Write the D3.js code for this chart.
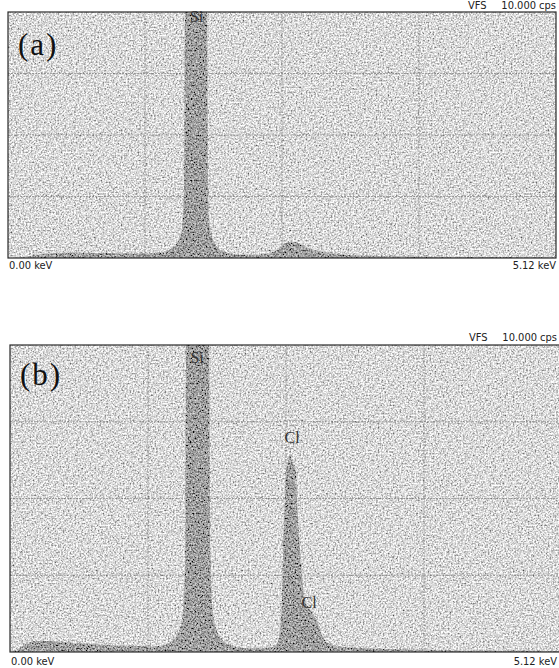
<!DOCTYPE html>
<html>
<head>
<meta charset="utf-8">
<script src="https://cdn.jsdelivr.net/npm/d3@7"></script>
<style>
  body { margin: 0; background: #fff; }
  svg { display: block; }
</style>
</head>
<body>
<div id="chart"></div>
<script>
// spectrum (a): energy in keV, intensity in cps (full scale 10 cps; Si goes off scale)
const energyA = [0.00, 0.15, 0.30, 0.45, 0.70, 1.00, 1.20, 1.30, 1.42, 1.50, 1.56, 1.60, 1.626, 1.645, 1.654, 1.66, 1.757,
                 1.853, 1.859, 1.87, 1.887, 1.92, 1.96, 2.02, 2.10, 2.20, 2.35, 2.45, 2.52, 2.58, 2.64, 2.70, 2.76,
                 2.82, 2.90, 3.00, 3.15, 3.40, 3.70, 4.20, 5.12];
const countsA = [0.00, 0.04, 0.14, 0.20, 0.21, 0.19, 0.18, 0.18, 0.22, 0.32, 0.50, 0.80, 1.2, 3.0, 10, 14, 25,
                 14, 10, 3.0, 1.2, 0.70, 0.40, 0.25, 0.16, 0.13, 0.14, 0.20, 0.35, 0.58, 0.66, 0.62, 0.50,
                 0.38, 0.28, 0.20, 0.13, 0.09, 0.06, 0.04, 0.02];

// spectrum (b)
const energyB = [0.00, 0.08, 0.15, 0.22, 0.35, 0.50, 0.70, 0.90, 1.10, 1.30, 1.42, 1.50, 1.56, 1.60, 1.625, 1.635, 1.64, 1.74,
                 1.84, 1.845, 1.86, 1.885, 1.93, 1.98, 2.05, 2.15, 2.30, 2.42, 2.47, 2.50, 2.515, 2.525, 2.535, 2.55, 2.56,
                 2.58, 2.597, 2.62, 2.653, 2.662, 2.69, 2.737, 2.78, 2.82, 2.86, 2.90, 2.95, 3.05, 3.30, 3.70, 4.20, 5.12];
const countsB = [0.00, 0.10, 0.28, 0.35, 0.36, 0.32, 0.27, 0.23, 0.20, 0.18, 0.22, 0.35, 0.60, 1.2, 3.0, 10, 14, 25,
                 14, 10, 3.0, 1.2, 0.60, 0.35, 0.22, 0.14, 0.12, 0.14, 0.25, 0.60, 1.2, 2.0, 3.5, 5.0, 5.9,
                 6.2, 6.45, 6.2, 5.9, 5.0, 3.3, 1.7, 1.4, 1.2, 0.9, 0.5, 0.3, 0.18, 0.12, 0.08, 0.05, 0.03];

const labelsA = [{ text: "Si", keV: 1.761, cps: 9.6 }];
const labelsB = [{ text: "Si", keV: 1.735, cps: 9.4 }, { text: "Cl", keV: 2.616, cps: 6.8 }, { text: "Cl", keV: 2.774, cps: 1.43 }];

const keVRange = [0, 5.12];
const cpsRange = [0, 10];
const keVGrid = [1.28, 2.56, 3.84];
const cpsGrid = [2.5, 5, 7.5];

const W = 559, H = 668;
const svg = d3.select("#chart").append("svg").attr("width", W).attr("height", H);

const defs = svg.append("defs");

// grainy halftone texture like the scanned print
function grainFilter(id, slope, intercept, seed) {
    const f = defs.append("filter").attr("id", id)
        .attr("x", 0).attr("y", 0).attr("width", "100%").attr("height", "100%");
    f.append("feTurbulence").attr("type", "fractalNoise")
        .attr("baseFrequency", 0.6).attr("numOctaves", 2).attr("seed", seed).attr("result", "n");
    f.append("feColorMatrix").attr("type", "matrix")
        .attr("values", "1 0 0 0 0  1 0 0 0 0  1 0 0 0 0  0 0 0 0 1");
    const ct = f.append("feComponentTransfer");
    ["feFuncR", "feFuncG", "feFuncB"].forEach(fn =>
        ct.append(fn).attr("type", "linear").attr("slope", slope).attr("intercept", intercept));
}
grainFilter("bgGrain", 1.6, -0.10, 2);
grainFilter("pkGrain", 1.3, -0.30, 7);

const panels = [
    { id: "a", left: 8, top: 12, width: 548, height: 246, energy: energyA, counts: countsA, labels: labelsA,
      tag: "(a)", tagY: 43, headY: -3, footY: 11, textRight: 548 },
    { id: "b", left: 10, top: 345, width: 552, height: 307, energy: energyB, counts: countsB, labels: labelsB,
      tag: "(b)", tagY: 40, headY: -4, footY: 13, textRight: 547 }
];

panels.forEach(p => {
    const x = d3.scaleLinear().domain(keVRange).range([0, p.width]);
    const y = d3.scaleLinear().domain(cpsRange).range([p.height, 0]).clamp(true);
    const data = p.energy.map((e, i) => ({ e: e, c: p.counts[i] }));

    const g = svg.append("g").attr("transform", `translate(${p.left},${p.top})`);

    // background
    g.append("rect").attr("width", p.width).attr("height", p.height)
        .attr("fill", "#b0b0b0").attr("filter", "url(#bgGrain)");

    // grid
    g.selectAll(".vgrid").data(keVGrid).enter().append("line")
        .attr("x1", d => x(d)).attr("x2", d => x(d))
        .attr("y1", 0).attr("y2", p.height)
        .attr("stroke", "#666").attr("stroke-width", 1)
        .attr("stroke-dasharray", "2,1").attr("opacity", 0.5);
    g.selectAll(".hgrid").data(cpsGrid).enter().append("line")
        .attr("x1", 0).attr("x2", p.width)
        .attr("y1", d => y(d)).attr("y2", d => y(d))
        .attr("stroke", "#666").attr("stroke-width", 1)
        .attr("stroke-dasharray", "2,1").attr("opacity", 0.5);

    // spectrum area as clip for darker texture
    const area = d3.area()
        .x(d => x(d.e))
        .y0(p.height)
        .y1(d => y(d.c))
        .curve(d3.curveMonotoneX);

    defs.append("clipPath").attr("id", "spec" + p.id)
        .append("path").attr("d", area(data));

    g.append("g").attr("clip-path", `url(#spec${p.id})`)
        .append("rect").attr("width", p.width).attr("height", p.height)
        .attr("filter", "url(#pkGrain)");

    // frame
    g.append("rect").attr("width", p.width).attr("height", p.height)
        .attr("fill", "none").attr("stroke", "#2a2a2a").attr("stroke-width", 1.2);

    // peak labels
    g.selectAll(".pk").data(p.labels).enter().append("text")
        .attr("x", d => x(d.keV)).attr("y", d => y(d.cps))
        .attr("text-anchor", "middle")
        .style("font-family", "'Liberation Serif', 'DejaVu Serif', serif")
        .style("font-size", "16px")
        .style("fill", "#333")
        .text(d => d.text);

    // panel tag
    g.append("text").attr("x", 10).attr("y", p.tagY)
        .style("font-family", "'Liberation Serif', 'DejaVu Serif', serif")
        .style("font-size", "31px")
        .style("letter-spacing", "2px")
        .style("fill", "#111")
        .text(p.tag);

    // header and axis end labels
    const small = sel => sel.style("font-family", "'Liberation Sans Narrow', 'DejaVu Sans Condensed', 'Liberation Sans', sans-serif")
        .style("font-size", "11px").style("fill", "#222");
    g.append("text").attr("x", p.textRight - 88).attr("y", p.headY).call(small).text("VFS");
    g.append("text").attr("x", p.textRight).attr("y", p.headY).attr("text-anchor", "end").call(small).text("10.000 cps");
    g.append("text").attr("x", x(keVRange[0]) + 1).attr("y", p.height + p.footY).call(small).text("0.00 keV");
    g.append("text").attr("x", p.textRight).attr("y", p.height + p.footY).attr("text-anchor", "end").call(small).text("5.12 keV");
});
</script>
</body>
</html>
